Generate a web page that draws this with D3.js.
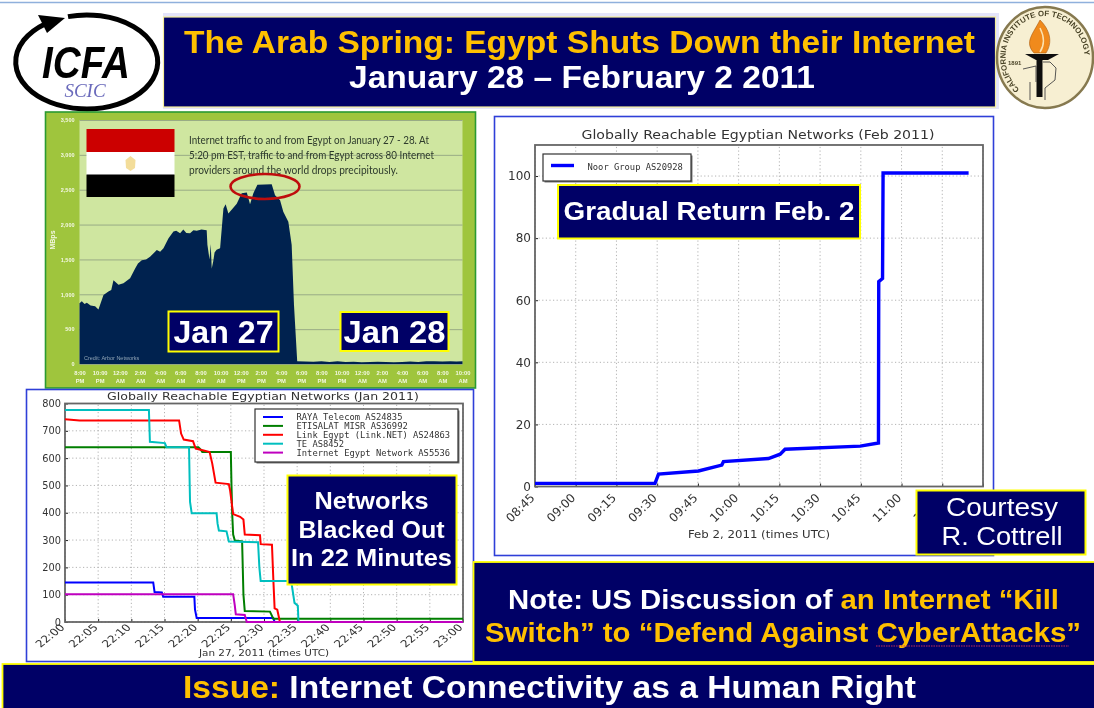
<!DOCTYPE html>
<html>
<head>
<meta charset="utf-8">
<script src="https://cdn.jsdelivr.net/npm/d3@7"></script>
<style>
  html, body { margin: 0; padding: 0; background: #fff; overflow: hidden; }
  svg { display: block; }
  text { font-family: "Liberation Sans", Arial, sans-serif; }
  .mpl text { font-family: "DejaVu Sans", sans-serif; fill: #333; }
  .mono { font-family: "DejaVu Sans Mono", monospace !important; }
</style>
</head>
<body>
<div id="chart"></div>
<script>
// traffic panel, hours after 8 PM on Jan 27 and Mbps
const trafficHours = [0, 0.23, 0.5, 0.73, 1.1, 1.55, 1.88, 2.38, 2.87, 3.15, 3.37, 3.87, 4.36, 5.02, 5.52, 5.8, 6.18, 6.6, 7.0, 7.3, 7.67,
  8.0, 8.33, 8.82, 9.32, 9.6, 9.98, 10.3, 10.6, 10.97, 11.3, 11.63, 12.1, 12.62, 12.69, 12.9, 13.02, 13.12, 13.28, 13.4, 13.6, 13.95,
  14.28, 14.5, 14.77, 15.2, 15.6, 16.09, 16.6, 16.75, 16.92, 17.25, 17.65, 19.07, 19.4, 19.9, 20.22, 20.72, 21.05, 21.28, 21.6,
  22.4, 23.2, 24.0, 24.8, 25.6, 26.4, 27.2, 28.0, 28.8, 29.6, 30.4, 31.2, 32.0, 32.8, 33.6, 34.4, 35.2, 36.0, 36.8, 37.4, 38];
const trafficMbps = [870, 900, 860, 880, 840, 830, 780, 990, 1040, 1060, 1200, 1135, 1160, 1230, 1370, 1440, 1490, 1500, 1540, 1580, 1635,
  1610, 1660, 1800, 1900, 1910, 1875, 1930, 1880, 1875, 1920, 1910, 1930, 1920, 1710, 1500, 1720, 1370, 1480, 1600, 1640, 1660,
  2230, 2290, 2160, 2230, 2300, 2450, 2460, 2380, 2290, 2450, 2570, 2580, 2420, 2350, 2185, 2040, 1710, 850, 40,
  35, 32, 40, 30, 38, 28, 32, 25, 30, 34, 28, 25, 30, 35, 30, 40, 38, 36, 40, 35, 38];
const trafficTickHours = [0, 2, 4, 6, 8, 10, 12, 14, 16, 18, 20, 22, 24, 26, 28, 30, 32, 34, 36, 38];
const trafficTickLabels = ["8:00 PM", "10:00 PM", "12:00 AM", "2:00 AM", "4:00 AM", "6:00 AM", "8:00 AM", "10:00 AM", "12:00 PM",
  "2:00 PM", "4:00 PM", "6:00 PM", "8:00 PM", "10:00 PM", "12:00 AM", "2:00 AM", "4:00 AM", "6:00 AM", "8:00 AM", "10:00 AM"];
const trafficNote = ["Internet traffic to and from Egypt on January 27 - 28. At",
  "5:20 pm EST, traffic to and from Egypt across 80 Internet",
  "providers around the world  drops precipitously."];

// January chart, minutes after 22:00 and reachable networks
const rayaMinutes = [0, 13.3, 13.5, 14.6, 14.8, 19.5, 19.6, 19.85, 31.4, 31.6, 60];
const rayaValues = [145, 145, 110, 108, 92, 92, 45, 15, 15, 0, 0];
const etisalatMinutes = [0, 20.1, 20.5, 20.7, 25.0, 25.1, 25.2, 25.35, 25.6, 26.7, 26.9, 27.1, 30.9, 31.4, 60];
const etisalatValues = [640, 640, 630, 622, 622, 500, 400, 320, 298, 295, 100, 40, 38, 12, 12];
const linkMinutes = [0, 2.2, 17.2, 17.5, 17.9, 19.3, 19.7, 20.9, 21.8, 22.2, 22.7, 24.7, 24.9, 25.35, 26.4, 26.9, 27.1, 29.4, 29.5, 31.2, 31.4, 31.6, 32, 32.4, 60];
const linkValues = [742, 738, 738, 690, 668, 662, 635, 628, 622, 580, 510, 505, 480, 395, 385, 375, 320, 318, 285, 283, 160, 50, 45, 0, 0];
const teMinutes = [0, 12.65, 12.8, 15.06, 15.3, 18.7, 18.8, 18.85, 19.1, 22.85, 23, 23.2, 24.35, 24.7, 29.1, 29.3, 29.5, 34.1, 34.6, 35.1, 35.2, 60];
const teValues = [776, 776, 660, 655, 640, 640, 500, 440, 398, 398, 360, 335, 332, 295, 292, 200, 150, 150, 70, 60, 0, 0];
const egyptNetMinutes = [0, 25.35, 25.6, 25.75, 27.1, 27.4, 60];
const egyptNetValues = [102, 102, 60, 28, 26, 0, 0];
const janTicks = d3.range(0, 61, 5);
const janTickLabels = ["22:00", "22:05", "22:10", "22:15", "22:20", "22:25", "22:30", "22:35", "22:40", "22:45", "22:50", "22:55", "23:00"];
const janValueTicks = [0, 100, 200, 300, 400, 500, 600, 700, 800];
const janNames = ["RAYA Telecom AS24835", "ETISALAT MISR AS36992", "Link Egypt (Link.NET) AS24863", "TE AS8452", "Internet Egypt Network AS5536"];
const janColors = ["#0000ff", "#007f00", "#ff0000", "#00bfbf", "#bf00bf"];

// February chart, minutes after 08:45 and reachable networks
const noorMinutes = [0, 44.2, 45.5, 60.2, 68.8, 69.4, 86, 90.3, 92.1, 119.8, 126.5, 126.6, 128, 128.2, 159.7];
const noorValues = [1, 1, 4, 5, 6.9, 8, 9, 10.4, 12, 13, 14, 66, 67, 101, 101];
const febTicks = d3.range(0, 166, 15);
const febTickLabels = ["08:45", "09:00", "09:15", "09:30", "09:45", "10:00", "10:15", "10:30", "10:45", "11:00", "11:15", "11:30"];
const febValueTicks = [0, 20, 40, 60, 80, 100];

const navy = "#000066", yellow = "#ffff00", gold = "#ffc000";

const svg = d3.select("#chart").append("svg").attr("width", 1094).attr("height", 708);

const defs = svg.append("defs");
defs.append("filter").attr("id", "soft").append("feGaussianBlur").attr("stdDeviation", 0.55);
defs.append("filter").attr("id", "softer").append("feGaussianBlur").attr("stdDeviation", 0.3);
defs.append("path").attr("id", "sealArc").attr("d", "M 1019.6 89.3 A 39.5 41.5 0 1 1 1070.4 89.3");

svg.append("line").attr("x1", 0).attr("x2", 1094).attr("y1", 2.5).attr("y2", 2.5).attr("stroke", "#8fb0dc").attr("stroke-width", 1.5);

function navyBox(parent, x, y, w, h, strokeWidth, strokeColor) {
    parent.append("rect").attr("x", x).attr("y", y).attr("width", w).attr("height", h)
        .attr("fill", navy).attr("stroke", strokeColor || yellow).attr("stroke-width", strokeWidth);
}

// text is stretched to the measured width, the slide itself was resized unevenly
function boxText(parent, str, x, y, size, width, color) {
    return parent.append("text").attr("x", x).attr("y", y).attr("text-anchor", "middle")
        .attr("font-size", size).attr("font-weight", "bold").attr("fill", color || "#fff")
        .attr("textLength", width).attr("lengthAdjust", "spacingAndGlyphs").text(str);
}

/* header */
function drawHeader() {
    const g = svg.append("g").attr("filter", "url(#softer)");
    g.append("rect").attr("x", 163).attr("y", 13).attr("width", 836).attr("height", 96).attr("fill", "#e4e4fa");
    navyBox(g, 163.5, 17, 832, 90, 1.2, "#f5ee9a");
    boxText(g, "The Arab Spring: Egypt Shuts Down their Internet", 579.5, 53, 31, 791, gold);
    boxText(g, "January 28 – February 2 2011", 582, 88, 31, 466);

    // ICFA logo
    const logo = svg.append("g").attr("filter", "url(#softer)");
    logo.append("path").attr("d", "M 68 16.6 A 71 47 0 1 1 45 23.9").attr("fill", "none").attr("stroke", "#000").attr("stroke-width", 5);
    logo.append("path").attr("d", "M 38 15 L 65 18 L 47 33 Z").attr("fill", "#000");
    logo.append("text").attr("x", 86).attr("y", 78).attr("text-anchor", "middle").attr("font-size", 44)
        .attr("font-weight", "bold").attr("font-style", "italic").attr("textLength", 88).attr("lengthAdjust", "spacingAndGlyphs").attr("fill", "#000").text("ICFA");
    logo.append("text").attr("x", 85).attr("y", 97).attr("text-anchor", "middle").attr("font-size", 19)
        .attr("font-style", "italic").style("font-family", "'Liberation Serif', serif").attr("fill", "#6a6abb").text("SCIC");

    // Caltech seal
    const seal = svg.append("g").attr("filter", "url(#softer)");
    seal.append("ellipse").attr("cx", 1045).attr("cy", 57.5).attr("rx", 48).attr("ry", 50.5)
        .attr("fill", "#f7efd2").attr("stroke", "#86794f").attr("stroke-width", 2.5);
    seal.append("text").attr("font-size", 7.8).attr("font-weight", "bold").attr("fill", "#4a4428")
        .append("textPath").attr("href", "#sealArc").text("CALIFORNIA INSTITUTE OF TECHNOLOGY");
    seal.append("path").attr("d", "M 1040 20 C 1050 30 1053 42 1046 53 L 1034 53 C 1024 42 1033 34 1040 20 Z")
        .attr("fill", "#f08a1c").attr("stroke", "#a85a10").attr("stroke-width", 0.6);
    seal.append("path").attr("d", "M 1040 28 C 1045 38 1044 46 1040 52").attr("fill", "none").attr("stroke", "#fbe2b0").attr("stroke-width", 1.5);
    seal.append("path").attr("d", "M 1025 54 L 1059 54 L 1048 60 L 1036 60 Z").attr("fill", "#111");
    seal.append("rect").attr("x", 1036.5).attr("y", 60).attr("width", 6).attr("height", 37).attr("fill", "#111");
    seal.append("path").attr("d", "M 1023 69 L 1036 66 L 1036 82 M 1043 62 L 1050 62 L 1056 68 L 1055 80 L 1045 88 L 1045 100 M 1030 82 L 1030 100")
        .attr("fill", "none").attr("stroke", "#444").attr("stroke-width", 0.9);
    seal.append("text").attr("x", 1008).attr("y", 65).attr("font-size", 6).attr("font-weight", "bold").attr("fill", "#4a4428").text("1891");
}

/* Egypt traffic panel */
function drawTraffic() {
    const g = svg.append("g").attr("filter", "url(#soft)");
    g.append("rect").attr("x", 45.5).attr("y", 112).attr("width", 430).attr("height", 276)
        .attr("fill", "#9fc53c").attr("stroke", "#2a9a32").attr("stroke-width", 1.6);

    const x = d3.scaleLinear().domain([0, 38]).range([79.5, 462.5]);
    const y = d3.scaleLinear().domain([0, 3500]).range([364, 120]);

    g.append("rect").attr("x", x(0)).attr("y", y(3500)).attr("width", x(38) - x(0)).attr("height", y(0) - y(3500)).attr("fill", "#cfe6a0");

    const yAxis = d3.axisLeft(y).tickValues(d3.range(0, 3501, 500)).tickFormat(d3.format(",")).tickSize(-(x(38) - x(0))).tickPadding(5);
    const yg = g.append("g").attr("transform", `translate(${x(0)},0)`).call(yAxis);
    yg.select(".domain").remove();
    yg.selectAll("line").attr("stroke", "#93a582").attr("stroke-width", 0.9);
    yg.selectAll("text").attr("fill", "#f4f8e4").attr("font-size", 5.5).attr("font-weight", "bold");

    const xAxis = d3.axisBottom(x).tickValues(trafficTickHours).tickSize(0).tickPadding(6).tickFormat(() => "");
    const xg = g.append("g").attr("transform", `translate(0,${y(0)})`).call(xAxis);
    xg.select(".domain").remove();
    xg.selectAll("text").each(function (d, i) {
        const parts = trafficTickLabels[i].split(" ");
        const t = d3.select(this).attr("fill", "#f4f8e4").attr("font-size", 5.8).attr("font-weight", "bold");
        t.append("tspan").attr("x", 0).attr("dy", 4.5).text(parts[0]);
        t.append("tspan").attr("x", 0).attr("dy", 8.8).text(parts[1]);
    });

    const area = d3.area().x((d, i) => x(trafficHours[i])).y0(y(0)).y1(d => y(d));
    g.append("path").datum(trafficMbps).attr("fill", "#00234f").attr("d", area);

    g.append("text").attr("transform", "translate(55,240) rotate(-90)").attr("text-anchor", "middle")
        .attr("font-size", 7).attr("font-weight", "bold").attr("fill", "#f4f8e4").text("MBps");
    g.append("text").attr("x", 84).attr("y", 360).attr("font-size", 5.5).attr("fill", "#8ea2b4").text("Credit: Arbor Networks");

    // flag
    g.append("rect").attr("x", 86.5).attr("y", 129).attr("width", 88).attr("height", 23).attr("fill", "#cc0000");
    g.append("rect").attr("x", 86.5).attr("y", 152).attr("width", 88).attr("height", 23).attr("fill", "#fff");
    g.append("rect").attr("x", 86.5).attr("y", 174.5).attr("width", 88).attr("height", 22.5).attr("fill", "#000");
    g.append("path").attr("d", "M 130.5 156 L 135.5 160 L 135 168 L 130.5 171 L 126 168 L 125.5 160 Z").attr("fill", "#f3dd9a");

    g.selectAll(".note").data(trafficNote).join("text").attr("class", "note")
        .attr("x", 189).attr("y", (d, i) => 144 + i * 15).attr("font-size", 11).attr("fill", "#2d3a2c")
        .style("font-family", "Lato, sans-serif").attr("lengthAdjust", "spacingAndGlyphs")
        .attr("textLength", (d, i) => [240, 245, 209][i]).text(d => d);

    g.append("ellipse").attr("cx", 265).attr("cy", 186.5).attr("rx", 34.5).attr("ry", 12.5)
        .attr("fill", "none").attr("stroke", "#bf1010").attr("stroke-width", 2.6);

    const labels = svg.append("g").attr("filter", "url(#softer)");
    navyBox(labels, 168.5, 311.5, 110, 40, 2);
    boxText(labels, "Jan 27", 223.5, 343, 32, 100);
    navyBox(labels, 340.5, 312, 108, 39, 2);
    boxText(labels, "Jan 28", 394.5, 343, 32, 102);
}

// shared matplotlib style frame, grid and tick marks
function styleAxes(g, x, y, xTicks, xLabels, yTicks, fontSize, labelTransform) {
    const w = x.range()[1] - x.range()[0], h = y.range()[0] - y.range()[1];
    const grid = g.append("g");
    grid.selectAll(".v").data(xTicks).join("line").attr("class", "v")
        .attr("x1", d => x(d)).attr("x2", d => x(d)).attr("y1", y.range()[0]).attr("y2", y.range()[1]);
    grid.selectAll(".h").data(yTicks).join("line").attr("class", "h")
        .attr("y1", d => y(d)).attr("y2", d => y(d)).attr("x1", x.range()[0]).attr("x2", x.range()[1]);
    grid.selectAll("line").attr("stroke", "#aaa").attr("stroke-width", 0.9).attr("stroke-dasharray", "1.2,2.4");

    const xg = g.append("g").attr("transform", `translate(0,${y.range()[0]})`)
        .call(d3.axisBottom(x).tickValues(xTicks).tickSize(-3).tickPadding(8).tickFormat((d, i) => xLabels[i]));
    xg.selectAll("text").attr("text-anchor", "end").attr("font-size", fontSize).attr("x", 0).attr("y", 0).attr("dy", 0)
        .attr("transform", labelTransform);
    const yg = g.append("g").attr("transform", `translate(${x.range()[0]},0)`)
        .call(d3.axisLeft(y).tickValues(yTicks).tickSize(-3).tickPadding(4));
    yg.selectAll("text").attr("font-size", fontSize);
    g.selectAll(".domain").remove();
    g.selectAll(".tick line").attr("stroke", "#222");
    g.append("rect").attr("x", x.range()[0]).attr("y", y.range()[1]).attr("width", w).attr("height", h)
        .attr("fill", "none").attr("stroke", "#666").attr("stroke-width", 1.8);
}

function legendBox(g, x, y, w, h) {
    g.append("rect").attr("x", x + 1.5).attr("y", y + 1.5).attr("width", w).attr("height", h).attr("fill", "#777");
    g.append("rect").attr("x", x).attr("y", y).attr("width", w).attr("height", h).attr("fill", "#fff").attr("stroke", "#333").attr("stroke-width", 1.2);
}

/* January chart */
function drawJanuary() {
    svg.append("rect").attr("x", 26.5).attr("y", 389.5).attr("width", 447).attr("height", 272)
        .attr("fill", "#fff").attr("stroke", "#2f3fd8").attr("stroke-width", 1.6);
    const g = svg.append("g").attr("class", "mpl").attr("filter", "url(#soft)");
    const x = d3.scaleLinear().domain([0, 60]).range([65, 463]);
    const y = d3.scaleLinear().domain([0, 800]).range([622, 403.5]);
    styleAxes(g, x, y, janTicks, janTickLabels, janValueTicks, 9.8, "translate(0,6) scale(1.25,1) rotate(-45)");

    const allMinutes = [rayaMinutes, etisalatMinutes, linkMinutes, teMinutes, egyptNetMinutes];
    const allValues = [rayaValues, etisalatValues, linkValues, teValues, egyptNetValues];
    allValues.forEach((vals, k) => {
        const line = d3.line().x((d, i) => x(allMinutes[k][i])).y(d => y(d));
        g.append("path").datum(vals).attr("fill", "none").attr("stroke", janColors[k]).attr("stroke-width", 2).attr("d", line);
    });

    g.append("text").attr("x", 263).attr("y", 399.5).attr("text-anchor", "middle").attr("font-size", 11).attr("textLength", 312).attr("lengthAdjust", "spacingAndGlyphs").text("Globally Reachable Egyptian Networks (Jan 2011)");
    g.append("text").attr("x", 264).attr("y", 656).attr("text-anchor", "middle").attr("font-size", 9.5).attr("textLength", 130).attr("lengthAdjust", "spacingAndGlyphs").text("Jan 27, 2011 (times UTC)");

    legendBox(g, 255, 409, 203, 53);
    janNames.forEach((name, i) => {
        const ly = 417 + i * 8.9;
        g.append("line").attr("x1", 263).attr("x2", 283).attr("y1", ly).attr("y2", ly).attr("stroke", janColors[i]).attr("stroke-width", 2);
        g.append("text").attr("class", "mono").attr("x", 296.5).attr("y", ly + 3).attr("font-size", 8.8).text(name);
    });

    const box = svg.append("g").attr("filter", "url(#softer)");
    navyBox(box, 287.5, 475.5, 169, 109, 2);
    boxText(box, "Networks", 371.5, 509, 24, 114);
    boxText(box, "Blacked Out", 371.5, 538, 24, 146);
    boxText(box, "In 22 Minutes", 371.5, 566, 24, 161);
}

/* February chart */
function drawFebruary() {
    svg.append("rect").attr("x", 494.5).attr("y", 116.5).attr("width", 499).attr("height", 439)
        .attr("fill", "#fff").attr("stroke", "#2f3fd8").attr("stroke-width", 1.6);
    const g = svg.append("g").attr("class", "mpl").attr("filter", "url(#soft)");
    const x = d3.scaleLinear().domain([0, 165]).range([535, 983]);
    const y = d3.scaleLinear().domain([0, 110]).range([486.5, 145]);
    styleAxes(g, x, y, febTicks, febTickLabels, febValueTicks, 12, "translate(0,12) rotate(-45)");

    const line = d3.line().x((d, i) => x(noorMinutes[i])).y(d => y(d));
    g.append("path").datum(noorValues).attr("fill", "none").attr("stroke", "#0000ff").attr("stroke-width", 3.4).attr("d", line);

    g.append("text").attr("x", 758).attr("y", 139).attr("text-anchor", "middle").attr("font-size", 13).attr("textLength", 353).attr("lengthAdjust", "spacingAndGlyphs").text("Globally Reachable Egyptian Networks (Feb 2011)");
    g.append("text").attr("x", 759).attr("y", 538).attr("text-anchor", "middle").attr("font-size", 11).attr("textLength", 142).attr("lengthAdjust", "spacingAndGlyphs").text("Feb 2, 2011 (times UTC)");

    legendBox(g, 543, 154, 148, 27);
    g.append("line").attr("x1", 551).attr("x2", 574).attr("y1", 165.5).attr("y2", 165.5).attr("stroke", "#0000ff").attr("stroke-width", 3.4);
    g.append("text").attr("class", "mono").attr("x", 587.5).attr("y", 170).attr("font-size", 8.8).text("Noor Group AS20928");

    const box = svg.append("g").attr("filter", "url(#softer)");
    navyBox(box, 558, 185, 302, 53.5, 2);
    boxText(box, "Gradual Return Feb. 2", 709, 220, 26.5, 291);
}

/* bottom boxes */
function drawBottom() {
    const g = svg.append("g").attr("filter", "url(#softer)");
    navyBox(g, 916.5, 490.5, 169, 64, 2);
    g.append("text").attr("x", 1002).attr("y", 516).attr("text-anchor", "middle").attr("font-size", 25).attr("fill", "#fff")
        .attr("textLength", 112).attr("lengthAdjust", "spacingAndGlyphs").text("Courtesy");
    g.append("text").attr("x", 1002).attr("y", 545).attr("text-anchor", "middle").attr("font-size", 25).attr("fill", "#fff")
        .attr("textLength", 121).attr("lengthAdjust", "spacingAndGlyphs").text("R. Cottrell");

    navyBox(g, 473.5, 562, 625, 100, 1.8);
    const note1 = boxText(g, "", 783.5, 609, 27.5, 551);
    note1.append("tspan").text("Note: US Discussion of ");
    note1.append("tspan").attr("fill", gold).text("an Internet “Kill");
    boxText(g, "Switch” to “Defend Against CyberAttacks”", 783, 642, 27.5, 596, gold);
    g.append("line").attr("x1", 876).attr("x2", 1069).attr("y1", 646).attr("y2", 646)
        .attr("stroke", "#c0305a").attr("stroke-width", 1).attr("stroke-dasharray", "1.5,1");

    navyBox(g, 2.5, 664, 1098, 50, 1.8);
    const issue = boxText(g, "", 549.5, 698, 32, 733);
    issue.append("tspan").attr("fill", gold).text("Issue: ");
    issue.append("tspan").text("Internet Connectivity as a Human Right");
}

drawHeader();
drawTraffic();
drawJanuary();
drawFebruary();
drawBottom();
</script>
</body>
</html>
